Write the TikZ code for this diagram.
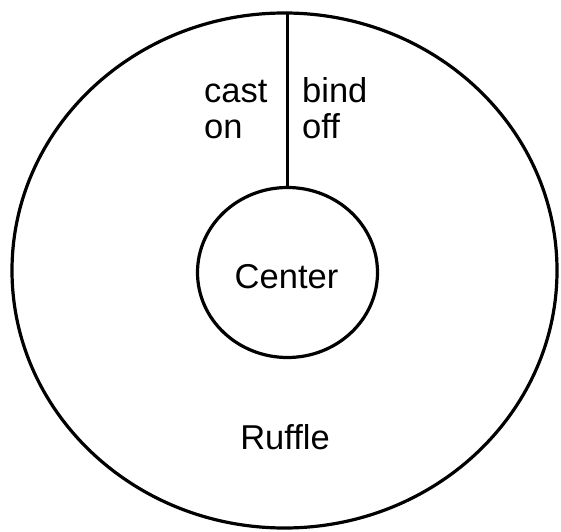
\documentclass[tikz,border=0pt]{standalone}
\usepackage{fontspec}
\setmainfont{Liberation Sans}
\usetikzlibrary{shapes.geometric}
\begin{document}
\begin{tikzpicture}[x=1pt,y=1pt,
  ring/.style={draw=black, line width=3.2pt, ellipse, inner sep=0pt, outer sep=0pt},
  lbl/.style={inner sep=0pt, font=\fontsize{34.5}{36}\selectfont}]
\useasboundingbox (0,0) rectangle (561,531);
\fill[white] (0,0) rectangle (561,531);
\node[ring, minimum width=545pt, minimum height=515pt] (outer) at (284.5,260.5) {};
\node[ring, minimum width=180pt, minimum height=170pt] (inner) at (287.5,258.5) {};
\coordinate (top) at (287.5,518);
\draw[line width=3.2pt] (inner.north) -- (top);
\node[lbl, anchor=base west] (cast) at (204,428) {cast};
\node[lbl, anchor=base west] (on) at (204,392) {on};
\node[lbl, anchor=base west] (bind) at (302,428) {bind};
\node[lbl, anchor=base west] (off) at (302,392) {off};
\node[lbl, anchor=base] (center) at (286.5,243) {Center};
\node[lbl, anchor=base] (ruffle) at (285,82) {Ruffle};
\end{tikzpicture}
\end{document}
